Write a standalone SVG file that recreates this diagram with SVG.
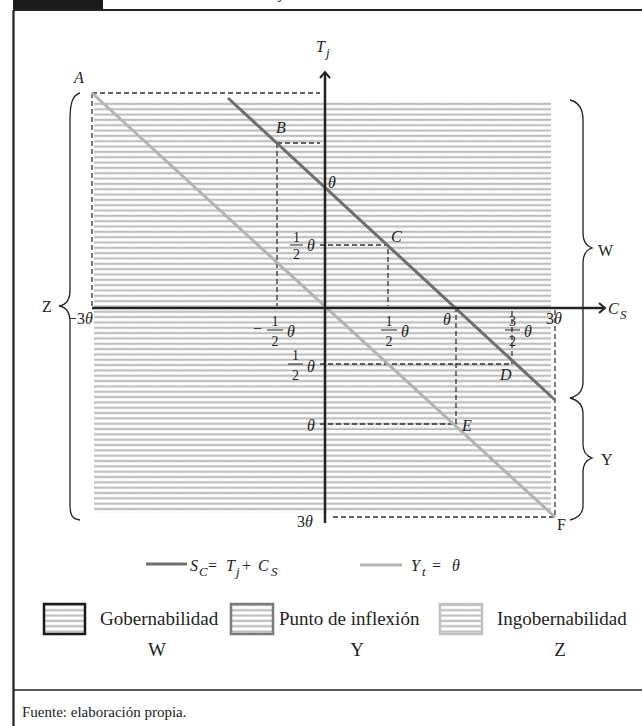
<svg xmlns="http://www.w3.org/2000/svg" width="642" height="726" viewBox="0 0 642 726" font-family="'Liberation Serif', 'Times New Roman', serif">
<defs>
<pattern id="hatch" patternUnits="userSpaceOnUse" width="3" height="5.33">
<rect x="0" y="1.4" width="3" height="2.5" fill="#d2d2d2"/>
<path d="M0,3.4 L1.5,1.9 L3,3.4" fill="none" stroke="#a0a0a0" stroke-width="0.8"/>
</pattern>
<marker id="chev" markerWidth="12" markerHeight="12" refX="9" refY="6" orient="auto" markerUnits="userSpaceOnUse">
<path d="M3,1 L9,6 L3,11" fill="none" stroke="#222" stroke-width="2"/>
</marker>
</defs>
<style>
text{font-family:'Liberation Serif','Times New Roman',serif}
.it{font-style:italic;font-size:16px;fill:#222}
.rm{font-size:16px;fill:#222}
.fr{font-size:14px;fill:#222;text-anchor:middle}
.bar{stroke:#222;stroke-width:1}
.dash{fill:none;stroke:#333;stroke-width:1.3;stroke-dasharray:5,3}
.brace{fill:none;stroke:#222;stroke-width:1.3}
.leg{font-size:19px;fill:#222}
.sub{font-style:italic;font-size:13px;fill:#222}
</style>
<rect width="642" height="726" fill="#fff"/>
<g id="frame">
<rect x="13" y="0" width="90" height="9" fill="#1a1a1a"/>
<text x="279" y="-2" class="it" font-size="14">y</text>
<line x1="13" y1="10" x2="642" y2="10" stroke="#222" stroke-width="2.2"/>
<line x1="13.5" y1="10" x2="13.5" y2="726" stroke="#222" stroke-width="2.2"/>
<line x1="13" y1="690" x2="642" y2="690" stroke="#222" stroke-width="1.6"/>
<text x="22" y="717" font-size="15" fill="#222">Fuente: elaboración propia.</text>
</g>
<g id="hatch-area">
<rect x="94" y="100" width="457" height="413" fill="url(#hatch)"/>
</g>
<g id="guides">
<path class="dash" d="M92,93 H320 M92,93 V306"/>
<path class="dash" d="M277,143 H320 M277,143 V306"/>
<path class="dash" d="M320,245 H388 V306"/>
<path class="dash" d="M320,364 H512 V310"/>
<path class="dash" d="M320,424 H456 V310"/>
<path class="dash" d="M555,310 V517 H330"/>
</g>
<g id="connectors">
<line id="yt-line" x1="92" y1="93" x2="555" y2="517" stroke="#b3b3b3" stroke-width="3"/>
<line id="sc-line" x1="228" y1="98" x2="555" y2="400" stroke="#6e6e6e" stroke-width="3"/>
<line id="axis-cs" x1="92" y1="308" x2="605" y2="308" stroke="#222" stroke-width="2.5" marker-end="url(#chev)"/>
<line id="axis-tj" x1="325" y1="523" x2="325" y2="72" stroke="#222" stroke-width="2.5" marker-end="url(#chev)"/>
</g>
<g id="axis-labels">
<text x="316" y="52" class="it" font-size="17">T</text><text x="326" y="57" class="sub" font-size="12">j</text>
<text x="608" y="314" class="it" font-size="17">C</text><text x="620" y="319" class="sub" font-size="12">S</text>
</g>
<g id="ticks">
<text x="328" y="188" class="it">θ</text>
<line class="bar" x1="290" y1="245" x2="303" y2="245"/><text class="fr" x="296.5" y="242">1</text><text class="fr" x="296.5" y="259">2</text><text x="307" y="251" class="it">θ</text>
<text x="68" y="324" class="rm">−3<tspan class="it">θ</tspan></text>
<text x="253" y="334" class="rm">−</text><line class="bar" x1="267" y1="330" x2="283" y2="330"/><text class="fr" x="275" y="326">1</text><text class="fr" x="275" y="346">2</text><text x="287" y="337" class="it">θ</text>
<line class="bar" x1="381" y1="330" x2="397" y2="330"/><text class="fr" x="389" y="326">1</text><text class="fr" x="389" y="346">2</text><text x="401" y="337" class="it">θ</text>
<text x="443" y="325" class="it">θ</text>
<line class="bar" x1="505" y1="330" x2="520" y2="330"/><text class="fr" x="512.5" y="326">3</text><text class="fr" x="512.5" y="346">2</text><text x="524" y="337" class="it">θ</text>
<text x="546" y="324" class="rm">3<tspan class="it">θ</tspan></text>
<line class="bar" x1="288" y1="364" x2="303" y2="364"/><text class="fr" x="295.5" y="360">1</text><text class="fr" x="295.5" y="380">2</text><text x="307" y="372" class="it">θ</text>
<text x="307" y="431" class="it">θ</text>
<text x="297" y="527" class="rm">3<tspan class="it">θ</tspan></text>
</g>
<g id="point-A"><text x="74" y="83" class="it">A</text></g>
<g id="point-B"><text x="276" y="133" class="it">B</text></g>
<g id="point-C"><text x="391" y="242" class="it">C</text></g>
<g id="point-D"><text x="500" y="380" class="it">D</text></g>
<g id="point-E"><text x="462" y="431" class="it">E</text></g>
<g id="point-F"><text x="557" y="530" class="rm">F</text></g>
<g id="brace-Z">
<path class="brace" d="M80,93 C72,95 70,105 70,120 L70,290 C70,300 66,305 59,306 C66,307 70,312 70,322 L70,505 C70,515 72,519 80,520"/>
<text x="42" y="312" class="rm" font-size="17">Z</text>
</g>
<g id="brace-W">
<path class="brace" d="M570,100 C578,102 583,108 583,120 L583,233 C583,242 586,246 592,248 C586,250 583,254 583,263 L583,382 C583,392 578,396 570,398"/>
<text x="598" y="256" class="rm" font-size="17">W</text>
</g>
<g id="brace-Y">
<path class="brace" d="M570,398 C578,400 583,404 583,414 L583,444 C583,452 586,456 592,458 C586,460 583,464 583,472 L583,506 C583,514 578,518 570,520"/>
<text x="601" y="465" class="rm" font-size="17">Y</text>
</g>
<g id="legend">
<line x1="146" y1="564" x2="187" y2="564" stroke="#6e6e6e" stroke-width="3"/>
<text x="190" y="571" class="it" font-size="19">S</text><text x="199" y="576" class="sub">C</text>
<text x="208" y="571" class="rm" font-size="19">=</text>
<text x="226" y="571" class="it" font-size="19">T</text><text x="236" y="576" class="sub">j</text>
<text x="242" y="571" class="rm" font-size="19">+</text>
<text x="258" y="571" class="it" font-size="19">C</text><text x="271" y="576" class="sub">S</text>
<line x1="360" y1="565" x2="402" y2="565" stroke="#b3b3b3" stroke-width="3"/>
<text x="411" y="571" class="it" font-size="19">Y</text><text x="422" y="576" class="sub">t</text>
<text x="432" y="571" class="rm" font-size="19">=</text>
<text x="452" y="571" class="it" font-size="19">θ</text>
<g id="legend-W">
<rect x="44" y="604" width="41" height="30" fill="url(#hatch)" stroke="#1a1a1a" stroke-width="2.5"/>
<text x="100" y="625" class="leg">Gobernabilidad</text>
<text x="157" y="656" class="leg" text-anchor="middle">W</text>
</g>
<g id="legend-Y">
<rect x="231" y="604" width="42" height="30" fill="url(#hatch)" stroke="#7a7a7a" stroke-width="2.5"/>
<text x="279" y="625" class="leg">Punto de inflexión</text>
<text x="357" y="656" class="leg" text-anchor="middle">Y</text>
</g>
<g id="legend-Z">
<rect x="440" y="604" width="42" height="30" fill="url(#hatch)" stroke="#c2c2c2" stroke-width="2.5"/>
<text x="497" y="625" class="leg">Ingobernabilidad</text>
<text x="560" y="656" class="leg" text-anchor="middle">Z</text>
</g>
</g>
</svg>
